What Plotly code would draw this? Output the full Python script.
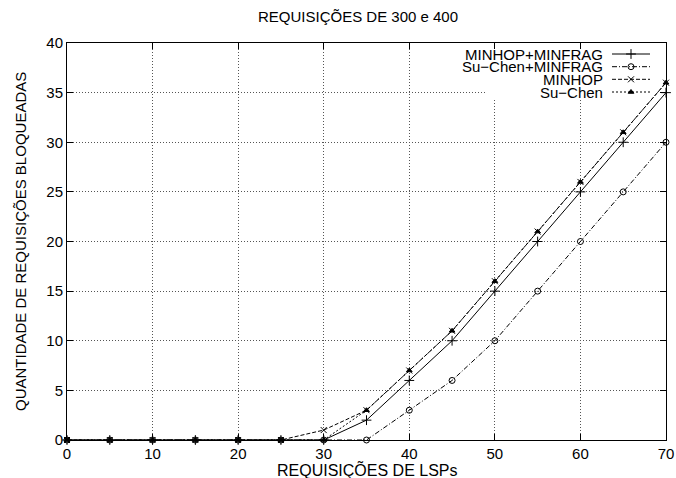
import plotly.graph_objects as go

# ---- data ----
x_vals = [0, 5, 10, 15, 20, 25, 30, 35, 40, 45, 50, 55, 60, 65, 70]
minhop_minfrag = [0, 0, 0, 0, 0, 0, 0, 2, 6, 10, 15, 20, 25, 30, 35]
suchen_minfrag = [0, 0, 0, 0, 0, 0, 0, 0, 3, 6, 10, 15, 20, 25, 30]
minhop = [0, 0, 0, 0, 0, 0, 1, 3, 7, 11, 16, 21, 26, 31, 36]
suchen = [0, 0, 0, 0, 0, 0, 0, 3, 7, 11, 16, 21, 26, 31, 36]

series_names = ["MINHOP+MINFRAG", "Su\u2212Chen+MINFRAG", "MINHOP", "Su\u2212Chen"]
series_vals = [minhop_minfrag, suchen_minfrag, minhop, suchen]
x_ticks = [0, 10, 20, 30, 40, 50, 60, 70]
y_ticks = [0, 5, 10, 15, 20, 25, 30, 35, 40]

title = "REQUISIÇÕES DE 300 e 400"
x_title = "REQUISIÇÕES DE LSPs"
y_title = "QUANTIDADE DE REQUISIÇÕES BLOQUEADAS"

# ---- styles ----
styles = [
    dict(dash="solid", symbol="cross-thin-open", size=7),
    dict(dash="5px,2px,1px,2px", symbol="circle-open", size=6),
    dict(dash="4px,2px", symbol="x-thin-open", size=6),
    dict(dash="2px,2px", symbol="triangle-up", size=5),
]

FONT = "Liberation Sans"
W, H = 676, 478
L, R, T, B = 67, 10, 43, 38
PW, PH = W - L - R, H - T - B


def px_x(px):
    return (px - L) / PW


def px_y(py):
    return 1 - (py - T) / PH


fig = go.Figure()
for name, vals, st in zip(series_names, series_vals, styles):
    fig.add_trace(go.Scatter(
        x=x_vals, y=vals, mode="lines+markers", name=name,
        line=dict(color="black", width=1, dash=st["dash"]),
        marker=dict(symbol=st["symbol"], size=st["size"], color="black",
                    line=dict(color="black", width=1)),
        cliponaxis=False, showlegend=False,
    ))

# ---- custom gnuplot-style legend (text left, sample right) on a pixel overlay axis ----
row_y = [54.0, 66.7, 79.3, 92.0]
for name, st, yy in zip(series_names, styles, row_y):
    fig.add_trace(go.Scatter(
        x=[612, 650], y=[yy, yy], xaxis="x2", yaxis="y2", mode="lines",
        line=dict(color="black", width=1, dash=st["dash"]),
        showlegend=False, hoverinfo="skip",
    ))
    fig.add_trace(go.Scatter(
        x=[631], y=[yy], xaxis="x2", yaxis="y2", mode="markers",
        marker=dict(symbol=st["symbol"], size=st["size"], color="black",
                    line=dict(color="black", width=1)),
        showlegend=False, hoverinfo="skip",
    ))
    fig.add_annotation(
        x=604, y=yy, xref="x2", yref="y2", text=name, showarrow=False,
        xanchor="right", yanchor="middle", borderpad=0,
        font=dict(family=FONT, size=15, color="black"),
    )

# white box behind legend hiding the grid (pixel box 487..666 x 43..99 mapped to data units)
bx0 = (487 - L) / PW * 70
by0 = 40 - (99 - T) / PH * 40
fig.add_shape(type="rect", xref="x", yref="y", x0=bx0, x1=70, y0=by0, y1=40,
              fillcolor="white", line=dict(width=0), layer="between")

# axis titles as annotations (fixed positions, like gnuplot)
fig.add_annotation(x=px_x(367), y=px_y(470), xref="paper", yref="paper", text=x_title,
                   showarrow=False, xanchor="center", yanchor="middle",
                   font=dict(family=FONT, size=16, color="black"))
fig.add_annotation(x=px_x(20), y=px_y(242), xref="paper", yref="paper", text=y_title,
                   showarrow=False, xanchor="center", yanchor="middle", textangle=-90,
                   font=dict(family=FONT, size=15, color="black"))

axis_common = dict(
    showline=True, linecolor="black", linewidth=1, mirror="allticks",
    ticks="inside", ticklen=6, tickwidth=1, tickcolor="black",
    showgrid=True, gridcolor="#555555", gridwidth=1, griddash="1px,2px",
    zeroline=False, automargin=False,
    tickfont=dict(family=FONT, size=15, color="black"),
)

fig.update_layout(
    width=W, height=H,
    margin=dict(l=L, r=R, t=T, b=B, autoexpand=False),
    paper_bgcolor="white", plot_bgcolor="white",
    font=dict(family=FONT, size=15, color="black"),
    title=dict(text=title, x=358 / W, xanchor="center", y=1 - 17 / H, yanchor="middle",
               automargin=False,
               font=dict(family=FONT, size=15, color="black")),
    xaxis=dict(range=[0, 70], tickvals=x_ticks, ticktext=[str(v) for v in x_ticks],
               **axis_common),
    yaxis=dict(range=[0, 40], tickvals=y_ticks, ticktext=[str(v) for v in y_ticks],
               **axis_common),
    xaxis2=dict(overlaying="x", range=[L, W - R], visible=False, fixedrange=True),
    yaxis2=dict(overlaying="y", range=[H - B, T], visible=False, fixedrange=True),
    showlegend=False,
)

fig.write_html("out.html")
